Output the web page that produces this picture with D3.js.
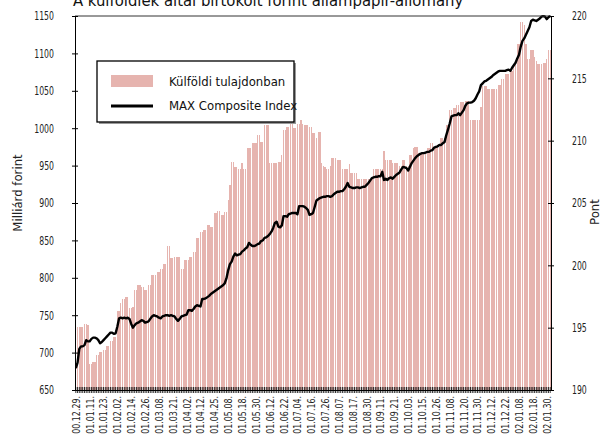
<!DOCTYPE html>
<html><head><meta charset="utf-8">
<script src="https://cdn.jsdelivr.net/npm/d3@7/dist/d3.min.js"></script>
<style>
body{margin:0;background:#fff;}
svg{display:block;font-family:"DejaVu Sans Condensed","DejaVu Sans",sans-serif;}
</style></head><body>
<svg id="chart" width="609" height="438"></svg>
<script>
const title = "A külföldiek által birtokolt forint állampapír-állomány";
const leftTitle = "Milliárd forint";
const rightTitle = "Pont";
const seriesNames = ["Külföldi tulajdonban", "MAX Composite Index"];
const tickLabels = ["00.12.29.","01.01.11.","01.01.23.","01.02.02.","01.02.14.","01.02.26.","01.03.08.","01.03.21.","01.04.02.","01.04.12.","01.04.25.","01.05.08.","01.05.18.","01.05.30.","01.06.12.","01.06.22.","01.07.04.","01.07.16.","01.07.26.","01.08.07.","01.08.17.","01.08.30.","01.09.11.","01.09.21.","01.10.03.","01.10.15.","01.10.26.","01.11.08.","01.11.20.","01.11.30.","01.12.12.","01.12.22.","02.01.08.","02.01.18.","02.01.30."];
const tradingDaysPerLabel = 8;
const leftTicks = [650,700,750,800,850,900,950,1000,1050,1100,1150];
const rightTicks = [190,195,200,205,210,215,220];

// Foreign holdings, billion HUF (one bar per trading day)
const holdings = [
734,734,734,734,734,738,738,737,685,685,
688,688,697,697,701,701,704,704,709,709,
715,715,721,721,755,755,766,771,771,774,
774,759,759,761,784,784,790,790,788,788,
784,784,791,791,804,804,804,808,808,812,
812,819,819,842,842,826,826,828,828,828,
828,812,812,824,824,824,828,828,835,835,
853,853,861,861,864,864,870,870,868,868,
887,887,889,889,884,884,888,888,904,924,
955,955,948,948,946,946,953,946,946,973,
973,973,980,980,980,991,991,982,982,1004,
1004,1004,953,953,953,953,953,955,955,964,
998,998,1002,1002,1006,1006,1000,1000,1006,1006,
1011,1006,1004,1004,1004,1002,1002,993,993,987,
995,995,953,950,948,946,946,950,960,960,
960,957,957,957,946,946,946,946,952,940,
940,940,940,932,932,932,932,932,932,932,
932,932,945,945,946,946,946,946,970,957,
957,957,957,953,953,953,953,950,950,957,
957,950,950,964,964,973,975,975,967,967,
967,967,967,973,973,980,980,975,975,975,
975,987,987,987,1004,1004,1024,1024,1027,1027,
1031,1031,1035,1035,1035,1036,1036,1036,1011,1011,
1011,1011,1011,1011,1028,1056,1056,1056,1052,1052,
1052,1052,1052,1052,1058,1058,1066,1066,1073,1073,
1073,1076,1076,1082,1089,1112,1112,1142,1142,1138,
1112,1092,1092,1104,1104,1095,1090,1086,1086,1086,
1087,1087,1093,1104,1104
];

// MAX Composite Index, points (daily close)
const maxIndex = [
191.75,192.2,193.3,193.5,193.5,193.6,194.0,193.9,193.9,194.1,
194.2,194.2,194.15,194.0,193.75,193.85,194.0,194.15,194.3,194.45,
194.6,194.6,194.5,194.55,195.1,195.75,195.8,195.75,195.8,195.75,
195.8,195.7,195.3,195.0,195.2,195.35,195.4,195.5,195.6,195.55,
195.4,195.45,195.5,195.7,195.9,196.0,195.95,195.9,195.8,195.75,
195.9,195.95,196.0,196.0,195.95,196.0,195.95,195.9,195.7,195.55,
195.7,195.9,195.95,196.0,196.05,196.4,196.4,196.35,196.5,196.7,
196.8,196.75,196.7,197.3,197.3,197.35,197.45,197.55,197.7,197.8,
197.9,198.0,198.1,198.2,198.3,198.4,198.55,198.95,199.6,200.1,
200.3,200.7,200.95,200.8,200.85,200.9,201.1,201.2,201.35,201.45,
201.8,201.65,201.55,201.55,201.6,201.7,201.75,201.95,202.0,202.2,
202.25,202.35,202.5,202.7,203.0,203.4,203.5,203.1,203.05,203.2,
203.95,203.95,203.9,204.1,204.15,204.2,204.2,204.2,204.1,204.75,
204.75,204.75,204.7,204.6,204.45,204.05,204.1,204.2,204.7,205.2,
205.3,205.4,205.45,205.5,205.5,205.55,205.55,205.5,205.55,205.7,
205.8,205.9,205.9,205.95,205.95,206.1,206.3,206.6,206.3,206.25,
206.2,206.2,206.25,206.25,206.2,206.25,206.3,206.3,206.45,206.6,
206.8,207.0,207.05,207.1,207.1,207.15,207.15,207.5,206.85,206.95,
206.85,207.0,207.05,206.95,207.1,207.25,207.35,207.45,207.7,207.9,
207.85,207.8,207.6,207.9,208.2,208.4,208.6,208.75,208.85,208.95,
209.0,209.0,209.05,209.1,209.1,209.2,209.25,209.45,209.5,209.55,
209.65,209.65,209.8,209.9,210.45,210.9,211.4,211.95,212.0,212.05,
212.05,212.2,212.05,212.25,212.45,212.8,213.0,213.05,213.05,213.1,
213.2,213.4,213.7,213.95,214.45,214.6,214.75,214.8,214.9,215.0,
215.1,215.25,215.35,215.45,215.55,215.6,215.6,215.6,215.6,215.65,
215.7,215.6,215.85,216.05,216.25,216.6,216.9,217.55,218.0,218.2,
218.5,218.8,219.1,219.6,219.7,219.65,219.6,219.7,219.8,219.95,
220.0,219.95,219.75,219.9,220.0
];

const days = d3.range(holdings.length);

const m = {left:75, right:551, top:16, bottom:390};
const svg = d3.select("#chart");

const x = d3.scaleBand().domain(days).range([m.left, m.right]).paddingInner(0.25).paddingOuter(0.1);
const yL = d3.scaleLinear().domain([650,1150]).range([m.bottom, m.top]);
const yR = d3.scaleLinear().domain([190,220]).range([m.bottom, m.top]);

// bars
svg.append("g").selectAll("rect").data(days).join("rect")
  .attr("x", d => x(d))
  .attr("width", x.bandwidth())
  .attr("y", d => yL(holdings[d]))
  .attr("height", d => yL(650) - yL(holdings[d]))
  .attr("fill", "#e6b4af")
  .attr("shape-rendering", "crispEdges");

// line
svg.append("defs").append("clipPath").attr("id","clip").append("rect")
  .attr("x", m.left).attr("y", m.top - 1).attr("width", m.right - m.left).attr("height", m.bottom - m.top + 1);
svg.append("path").datum(days)
  .attr("clip-path","url(#clip)")
  .attr("fill","none").attr("stroke","#000").attr("stroke-width",2.4)
  .attr("stroke-linejoin","round")
  .attr("d", d3.line().x(d => x(d) + x.bandwidth()/2).y(d => yR(maxIndex[d])));

// top frame line
svg.append("line").attr("x1", m.left).attr("x2", m.right).attr("y1", m.top).attr("y2", m.top)
  .attr("stroke", "#333").attr("stroke-width", 1);

const condense = 0.72;

// left axis
const gL = svg.append("g").attr("transform", `translate(${m.left},0)`)
  .call(d3.axisLeft(yL).tickValues(leftTicks).tickSizeInner(3).tickSizeOuter(0).tickPadding(18).tickFormat(d3.format("d")));
gL.attr("font-family", null).attr("font-size", null);
gL.selectAll(".tick line").attr("x2", -3).attr("x1", 3);
gL.select(".domain").attr("stroke","#000");
gL.selectAll("text").attr("font-size", 12).attr("fill","#222")
  .attr("x", 0).attr("transform", `translate(-21,0) scale(${condense},1)`);

// right axis
const gR = svg.append("g").attr("transform", `translate(${m.right},0)`)
  .call(d3.axisRight(yR).tickValues(rightTicks).tickSizeInner(3).tickSizeOuter(0).tickPadding(18).tickFormat(d3.format("d")));
gR.attr("font-family", null).attr("font-size", null);
gR.selectAll(".tick line").attr("x1", -3).attr("x2", 3);
gR.select(".domain").attr("stroke","#000");
gR.selectAll("text").attr("font-size", 12).attr("fill","#222")
  .attr("x", 0).attr("transform", `translate(21,0) scale(${condense},1)`);

// bottom axis
const gB = svg.append("g").attr("transform", `translate(0,${m.bottom})`)
  .call(d3.axisBottom(x).tickValues(days).tickSizeInner(3).tickSizeOuter(0).tickFormat(""));
gB.attr("font-family", null);
gB.selectAll(".tick line").attr("y1", -3).attr("y2", 3).attr("stroke-width", 0.8);
gB.select(".domain").attr("stroke","#000");

// x labels (every 8th trading day)
svg.append("g").selectAll("text").data(tickLabels).join("text")
  .attr("transform", (d,i) => `translate(${x(i*tradingDaysPerLabel) + x.bandwidth()/2},396) rotate(-90) scale(0.8,1)`)
  .attr("text-anchor","end").attr("dy","0.36em")
  .attr("font-size", 11).attr("fill","#222")
  .text(d => d);

// axis titles
svg.append("text").attr("transform","translate(17,193) rotate(-90)")
  .attr("text-anchor","middle").attr("dy","0.35em").attr("font-size",13).attr("fill","#222").text(leftTitle);
svg.append("text").attr("transform","translate(594,212) rotate(-90)")
  .attr("text-anchor","middle").attr("dy","0.35em").attr("font-size",13).attr("fill","#222").text(rightTitle);

// title
svg.append("text").attr("x",73).attr("y",5.5).attr("font-size",16.5).attr("fill","#111").text(title);

// legend
const lg = svg.append("g");
lg.append("rect").attr("x",99).attr("y",63).attr("width",197).attr("height",61).attr("fill","#999");
lg.append("rect").attr("x",97).attr("y",61).attr("width",197).attr("height",61).attr("fill","#fff").attr("stroke","#000").attr("stroke-width",1.3);
lg.append("rect").attr("x",111).attr("y",75).attr("width",42).attr("height",12).attr("fill","#e6b4af");
lg.append("line").attr("x1",111).attr("x2",153).attr("y1",106).attr("y2",106).attr("stroke","#000").attr("stroke-width",3);
lg.append("text").attr("x",169).attr("y",86).attr("font-size",13).attr("fill","#111").text(seriesNames[0]);
lg.append("text").attr("x",169).attr("y",110).attr("font-size",13).attr("fill","#111").text(seriesNames[1]);
</script>
</body></html>
